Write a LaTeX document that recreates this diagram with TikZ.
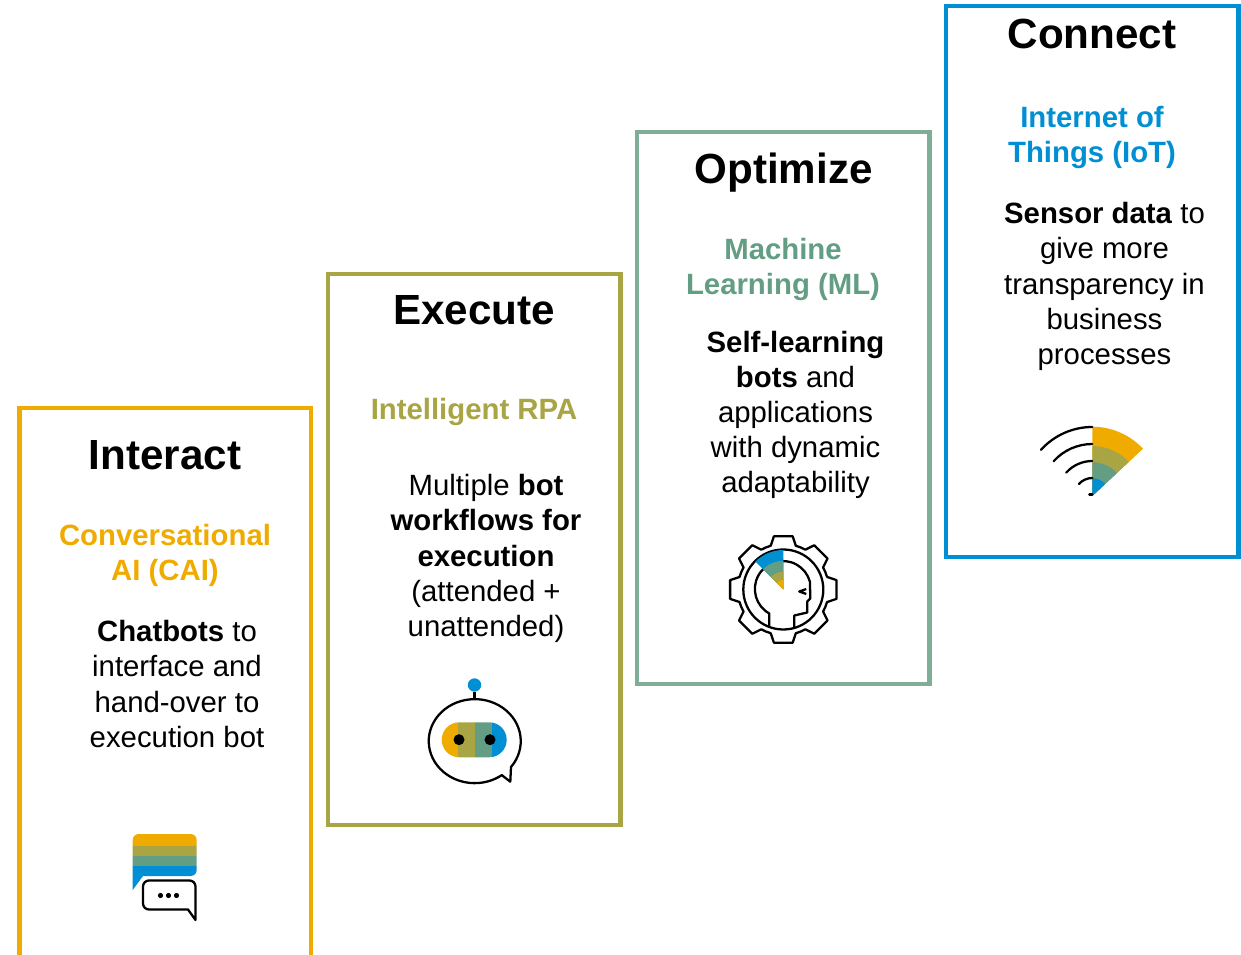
\documentclass[tikz,border=0pt]{standalone}
\usepackage{fontspec}
\setmainfont{Liberation Sans}
\definecolor{sapyellow}{HTML}{F0AB00}
\definecolor{sapolive}{HTML}{A9A545}
\definecolor{sapgreen}{HTML}{629D84}
\definecolor{sapframe}{HTML}{7FAE98}
\definecolor{sapblue}{HTML}{008FD3}
\begin{document}
\begin{tikzpicture}[x=0.02cm,y=-0.02cm]
\tikzstyle{frame}=[line width=2.8pt]
\tikzstyle{heading}=[anchor=base,inner sep=0,font=\fontsize{24}{28}\bfseries\selectfont]
\tikzstyle{topic}=[align=center,inner sep=0,font=\fontsize{16.7}{20}\bfseries\selectfont]
\tikzstyle{body}=[align=center,inner sep=0,font=\fontsize{16.7}{20}\selectfont]
\tikzstyle{icon}=[line width=1.3pt,line join=round]
\useasboundingbox (0,0) rectangle (1241,955);

% frames
\draw[frame,sapyellow] (19.5,955) -- (19.5,408) -- (311,408) -- (311,955);
\draw[frame,sapolive] (328,274) rectangle (620.5,825);
\draw[frame,sapframe] (637,132) rectangle (929.5,684);
\draw[frame,sapblue] (946,6) rectangle (1238.5,557);

% texts
\path (165,470) node[heading](interact){Interact};
\path (165,555) node[topic,sapyellow](cai){Conversational\\AI (CAI)};
\path (177,684) node[body](chatbots){\textbf{Chatbots} to\\interface and\\hand-over to\\execution bot};

\path (474,325) node[heading](execute){Execute};
\path (474,412) node[topic,sapolive](rpa){Intelligent RPA};
\path (486,558.5) node[body](workflows){Multiple \textbf{bot}\\\textbf{workflows for}\\\textbf{execution}\\(attended +\\unattended)};

\path (783.5,184) node[heading](optimize){Optimize};
\path (783,269.5) node[topic,sapgreen](ml){Machine\\Learning (ML)};
\path (795.5,415) node[body](selflearning){\textbf{Self-learning}\\\textbf{bots} and\\applications\\with dynamic\\adaptability};

\path (1092,49) node[heading](connect){Connect};
\path (1092,137.5) node[topic,sapblue](iot){Internet of\\Things (IoT)};
\path (1104.5,286.5) node[body](sensor){\textbf{Sensor data} to\\give more\\transparency in\\business\\processes};

% chat icon
\begin{scope}
\clip (132.7,840) arc[start angle=180,end angle=270,radius=6] -- (190.7,834) arc[start angle=270,end angle=360,radius=6] -- (196.7,870) arc[start angle=0,end angle=90,radius=6] -- (143,876) -- (132.7,890) -- cycle;
\fill[sapyellow] (130,830) rectangle (200,845.5);
\fill[sapolive] (130,845.5) rectangle (200,856);
\fill[sapgreen] (130,856) rectangle (200,866);
\fill[sapblue] (130,866) rectangle (200,892);
\end{scope}
\draw[icon,fill=white] (148,880.5) -- (189.5,880.5) arc[start angle=270,end angle=360,radius=6] -- (195.5,920) -- (188,909.5) -- (149,909.5) arc[start angle=90,end angle=180,radius=6] -- (143,886.5) arc[start angle=180,end angle=270,radius=6] -- cycle;
\foreach \px in {160.5,168.5,176.5} \fill (\px,895.5) circle[radius=2.6];

% bot icon
\fill[sapblue] (474.5,685) circle[radius=6.7];
\draw[icon] (474.5,692) -- (474.5,699);
\draw[icon] (511,767) arc[start angle=38,end angle=-306,x radius=46,y radius=42] -- (510.3,781.7) -- cycle;
\begin{scope}
\clip (459.2,722.3) -- (489.2,722.3) arc[start angle=270,end angle=450,radius=17.5] -- (459.2,757.3) arc[start angle=90,end angle=270,radius=17.5] -- cycle;
\fill[sapyellow] (440,720) rectangle (458.3,760);
\fill[sapolive] (458.3,720) rectangle (475,760);
\fill[sapgreen] (475,720) rectangle (491.7,760);
\fill[sapblue] (491.7,720) rectangle (510,760);
\end{scope}
\fill (459,739.7) circle[radius=5.5];
\fill (490,739.7) circle[radius=5.5];

% gear icon
\begin{scope}[shift={(783.3,589.5)}]
\draw[icon] (-16:45.5) \foreach \a in {0,45,...,315} { -- (\a-10:54) -- (\a+10:54) -- (\a+16:45.5) arc[start angle=\a+16,end angle=\a+29,radius=45.5] } -- cycle;
\draw[icon] (0,0) circle[radius=40];
\draw[icon] (-14,38) -- (-14,24) arc[start angle=119,end angle=345,radius=28] -- (27,9) -- (24,12) -- (24,23) -- (11,26) -- (11,38);
\fill[sapblue] (0,0) -- (225:39.5) arc[start angle=225,end angle=270,radius=39.5] -- cycle;
\fill[sapgreen] (0,0) -- (225:28.7) arc[start angle=225,end angle=270,radius=28.7] -- cycle;
\fill[sapolive] (0,0) -- (225:17.7) arc[start angle=225,end angle=270,radius=17.7] -- cycle;
\fill[sapyellow] (0,0) -- (225:9.5) arc[start angle=225,end angle=270,radius=9.5] -- cycle;
\draw[icon] (23,-0.5) -- (16,2) -- (23,4.5);
\end{scope}

% signal icon
\begin{scope}[shift={(1092.3,496)}]
\fill[sapyellow] (0,0) -- (0,-69.3) arc[start angle=270,end angle=317,radius=69.3] -- cycle;
\fill[sapolive] (0,0) -- (0,-50) arc[start angle=270,end angle=317,radius=50] -- cycle;
\fill[sapgreen] (0,0) -- (0,-33.7) arc[start angle=270,end angle=317,radius=33.7] -- cycle;
\fill[sapblue] (0,0) -- (0,-17.7) arc[start angle=270,end angle=317,radius=17.7] -- cycle;
\foreach \r in {69,52,35,18} \draw[icon,line cap=round] (0,-\r) arc[start angle=270,end angle=222,radius=\r];
\draw[icon,line cap=round] (-3,-1.5) -- (0,-1.5);
\end{scope}
\end{tikzpicture}
\end{document}
